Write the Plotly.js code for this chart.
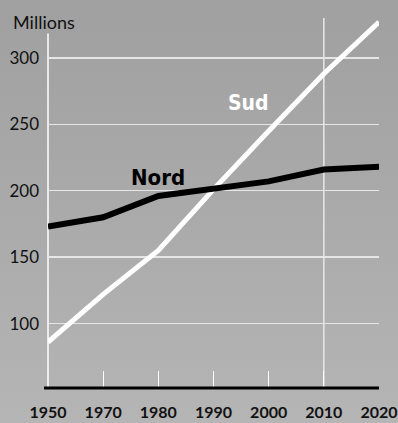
<!DOCTYPE html>
<html>
<head>
<meta charset="utf-8">
<script src="https://cdn.plot.ly/plotly-3.0.1.min.js"></script>
<style>
html,body{margin:0;padding:0;}
body{width:398px;height:423px;background:linear-gradient(to bottom,#a0a0a0 0%,#aaaaaa 50%,#b5b5b5 100%);}
#chart{width:398px;height:423px;}
</style>
</head>
<body>
<div id="chart"></div>
<script>
const years = ['1950','1970','1980','1990','2000','2010','2020'];
const nord = [173, 180, 196, 202, 207, 216, 218];
const sud = [86, 122, 155, 201, 245, 288, 327];
const yTicks = [100, 150, 200, 250, 300];
const yTickText = ['100', '150', '200', '250', '300'];
const markerYear = '2010';

const traces = [
  {x: years, y: sud, type: 'scatter', mode: 'lines', name: 'Sud',
   line: {color: '#ffffff', width: 5}, hoverinfo: 'skip'},
  {x: years, y: nord, type: 'scatter', mode: 'lines', name: 'Nord',
   line: {color: '#000000', width: 6}, hoverinfo: 'skip'}
];

const narrow = 'DejaVu Sans Condensed, sans-serif';

const layout = {
  width: 398, height: 423,
  margin: {l: 48, r: 19, t: 18, b: 35},
  paper_bgcolor: 'rgba(0,0,0,0)',
  plot_bgcolor: 'rgba(0,0,0,0)',
  showlegend: false,
  font: {family: 'Lato, sans-serif', color: '#111111'},
  xaxis: {
    type: 'category', range: [0, 6], showgrid: false, zeroline: false,
    showline: false, ticks: 'inside', ticklen: 17, tickwidth: 1, tickcolor: '#ffffff',
    ticklabelstandoff: 13,
    tickfont: {family: 'Lato, sans-serif', size: 16, weight: 'bold', color: '#111111'},
    fixedrange: true
  },
  yaxis: {
    range: [51.5, 330], tickvals: yTicks, ticktext: yTickText,
    showgrid: true, gridcolor: '#e6e6e6', gridwidth: 1.5, zeroline: false,
    showline: false, ticks: '', ticklabelstandoff: 8,
    tickfont: {family: 'Lato, sans-serif', size: 17, color: '#111111'},
    fixedrange: true
  },
  shapes: [
    {type: 'line', xref: 'paper', yref: 'paper', x0: 0, x1: 0, y0: 0, y1: 0.958,
     line: {color: '#ffffff', width: 1.5}, layer: 'below'},
    {type: 'line', xref: 'x', yref: 'paper', x0: years.indexOf(markerYear), x1: years.indexOf(markerYear), y0: 0, y1: 1,
     line: {color: '#e8e8e8', width: 1.5}, layer: 'below'},
    {type: 'line', xref: 'paper', yref: 'paper', x0: -0.012, x1: 1, y0: 0, y1: 0,
     line: {color: '#000000', width: 3}, layer: 'above'}
  ],
  annotations: [
    {text: 'Millions', xref: 'paper', yref: 'paper', x: -0.112, y: 0.99,
     xanchor: 'left', yanchor: 'middle', showarrow: false,
     font: {family: 'Lato, sans-serif', size: 18, color: '#111111'}},
    {text: '<b>Nord</b>', xref: 'x', yref: 'y', x: 1.99, y: 210,
     xanchor: 'center', yanchor: 'middle', showarrow: false,
     font: {family: narrow, size: 22, color: '#000000'}},
    {text: '<b>Sud</b>', xref: 'x', yref: 'y', x: 3.64, y: 266,
     xanchor: 'center', yanchor: 'middle', showarrow: false,
     font: {family: narrow, size: 21, color: '#ffffff'}}
  ]
};

Plotly.newPlot('chart', traces, layout, {displayModeBar: false, staticPlot: true});
</script>
</body>
</html>
